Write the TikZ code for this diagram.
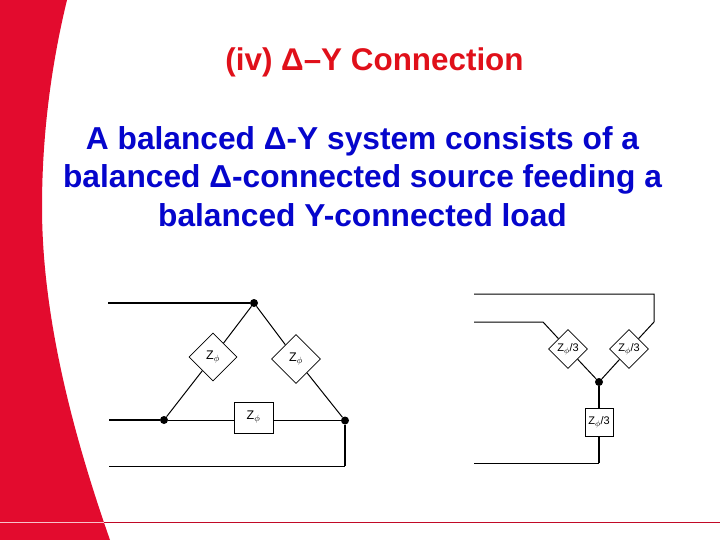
\documentclass[tikz,border=0pt]{standalone}
\usepackage{fontspec}
\setmainfont{Liberation Sans}
\usetikzlibrary{shapes.geometric}
\definecolor{slidered}{HTML}{E30B2E}
\definecolor{titlered}{HTML}{E0101A}
\definecolor{textblue}{HTML}{0505CC}
\tikzset{
  wire/.style={line width=1pt,black},
  thickwire/.style={line width=2pt,black},
  junction/.style={circle,fill=black,inner sep=0pt,minimum size=8pt},
  zdiamond/.style={diamond,draw,line width=0.8pt,fill=white,inner sep=0pt,minimum width=#1,minimum height=#1,font=\fontsize{12.5}{13}\selectfont},
  zbox/.style={rectangle,draw,line width=0.8pt,fill=white,inner sep=0pt,font=\fontsize{12.5}{13}\selectfont},
  smalltext/.style={font=\fontsize{11}{12}\selectfont},
  heading/.style={font=\fontsize{31.4}{32}\selectfont\bfseries,text=titlered},
  bodytext/.style={font=\fontsize{31.7}{38.5}\selectfont\bfseries,text=textblue,align=center}
}
\begin{document}
\begin{tikzpicture}[x=1pt,y=-1pt]
  \useasboundingbox (0,0) rectangle (720,540);
  % slide background
  \fill[slidered] (0,0) -- (67,0) .. controls (50,70) and (42,140) .. (42,207)
    .. controls (42,320) and (75,440) .. (110,540) -- (0,540) -- cycle;
  \draw[line width=0.7pt,white!75!slidered] (0,522.5) -- (104,522.5);
  \draw[line width=0.7pt,slidered!85!black] (104,522.5) -- (720,522.5);
  % texts
  \node[heading] (title) at (374.5,62.5) {(iv) Δ–Y Connection};
  \node[bodytext] (body) at (362.5,176.5) {A balanced Δ-Y system consists of a\\balanced Δ-connected source feeding a\\balanced Y-connected load};
  % delta source
  \draw
    (254,303) node[junction] (top){}
    (164,420) node[junction] (left){}
    (345,420.5) node[junction] (right){}
    (213,357) node[zdiamond=48pt] (zab){Z$_\phi$}
    (296,359) node[zdiamond=49pt] (zbc){Z$_\phi$}
    (253.5,417.5) node[zbox,minimum width=39pt,minimum height=31pt] (zca){Z$_\phi$};
  \coordinate (linea) at (108,303);
  \coordinate (lineb) at (109,420);
  \coordinate (linec) at (109,466);
  \coordinate (cornerc) at (345,466);
  \begin{scope}[wire]
    \draw (top) to (zab);
    \draw (zab) to (left);
    \draw (top) to (zbc);
    \draw (zbc) to (right);
    \draw (left) to (left -| zca.west);
    \draw (right -| zca.east) to (right);
    \draw (linec) to (cornerc);
  \end{scope}
  \begin{scope}[thickwire]
    \draw (linea) to (top);
    \draw (lineb) to (left);
    \draw (right) to (cornerc);
  \end{scope}
  % wye load
  \draw
    (599,382) node[junction] (star){}
    (568,349) node[zdiamond=39pt,smalltext] (za){Z$_\phi$/3}
    (629,349) node[zdiamond=39pt,smalltext] (zb){Z$_\phi$/3}
    (599,422) node[zbox,minimum width=28pt,minimum height=28pt,smalltext] (zc){Z$_\phi$/3};
  \coordinate (loada) at (474,322);
  \coordinate (benda) at (543,322);
  \coordinate (loadb) at (474,294);
  \coordinate (bendtop) at (654,294);
  \coordinate (bendb) at (654,322);
  \coordinate (loadc) at (474,463);
  \coordinate (cornerload) at (599,463);
  \begin{scope}[wire]
    \draw (loada) to (benda) to (za);
    \draw (za) to (star);
    \draw (loadb) to (bendtop) to (bendb) to (zb);
    \draw (zb) to (star);
    \draw (loadc) to (cornerload);
  \end{scope}
  \begin{scope}[thickwire]
    \draw (star) to (zc);
    \draw (zc) to (cornerload);
  \end{scope}
\end{tikzpicture}
\end{document}
